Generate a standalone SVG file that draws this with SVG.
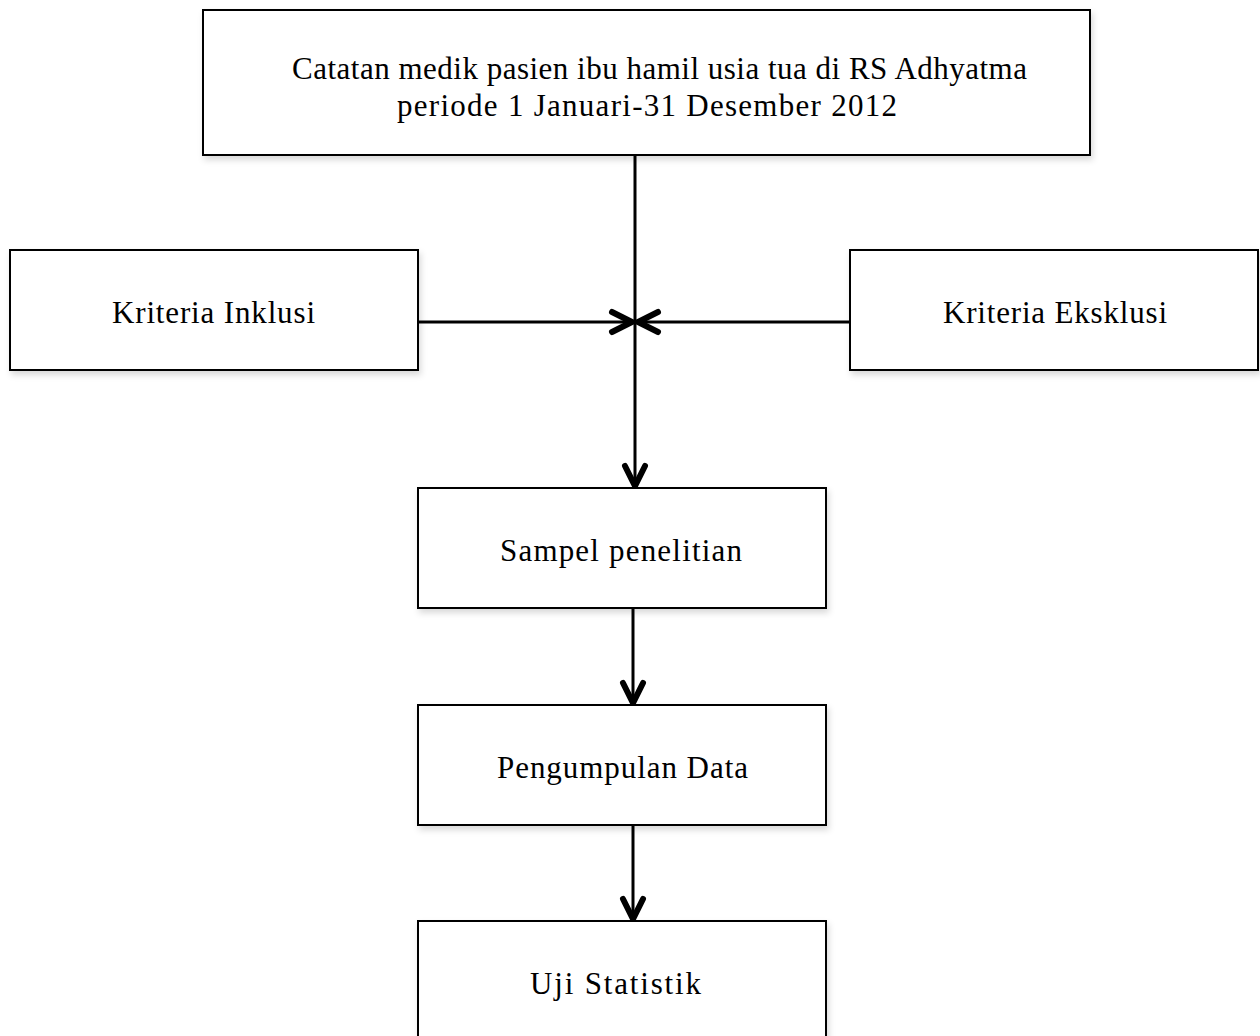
<svg xmlns="http://www.w3.org/2000/svg" width="1260" height="1036" viewBox="0 0 1260 1036">
<style>
.box{fill:#fff;stroke:#000;stroke-width:2}
.t{font-family:"Liberation Serif","DejaVu Serif",serif;font-size:31px;fill:#000}
.ln{stroke:#000;stroke-width:3;fill:none}
.ah{stroke:#000;stroke-width:6;fill:none;stroke-linecap:round;stroke-linejoin:miter}
</style>
<defs>
<filter id="sh" x="-5%" y="-5%" width="110%" height="115%">
<feDropShadow dx="2" dy="4" stdDeviation="3" flood-color="#000" flood-opacity="0.15"/>
</filter>
</defs>
<rect width="1260" height="1036" fill="#fff"/>
<g id="connectors">
<line class="ln" x1="635" y1="155" x2="635" y2="486"/>
<line class="ln" x1="418" y1="322" x2="633" y2="322"/>
<line class="ln" x1="850" y1="322" x2="637" y2="322"/>
<polyline class="ah" points="612,312 632,322 612,332"/>
<polyline class="ah" points="658,312 638,322 658,332"/>
<polyline class="ah" points="625,466 635,486 645,466"/>
<line class="ln" x1="633" y1="608" x2="633" y2="703"/>
<polyline class="ah" points="623,683 633,703 643,683"/>
<line class="ln" x1="633" y1="825" x2="633" y2="919"/>
<polyline class="ah" points="623,899 633,919 643,899"/>
</g>
<g id="n1"><rect class="box" filter="url(#sh)" x="203" y="10" width="887" height="145"/>
<text class="t" x="292" y="79" textLength="735" lengthAdjust="spacing">Catatan medik pasien ibu hamil usia tua di RS Adhyatma</text>
<text class="t" x="397" y="116" textLength="500" lengthAdjust="spacing">periode 1 Januari-31 Desember 2012</text></g>
<g id="n2"><rect class="box" filter="url(#sh)" x="10" y="250" width="408" height="120"/>
<text class="t" x="112" y="323" textLength="203" lengthAdjust="spacing">Kriteria Inklusi</text></g>
<g id="n3"><rect class="box" filter="url(#sh)" x="850" y="250" width="408" height="120"/>
<text class="t" x="943" y="323" textLength="224" lengthAdjust="spacing">Kriteria Eksklusi</text></g>
<g id="n4"><rect class="box" filter="url(#sh)" x="418" y="488" width="408" height="120"/>
<text class="t" x="500" y="561" textLength="242" lengthAdjust="spacing">Sampel penelitian</text></g>
<g id="n5"><rect class="box" filter="url(#sh)" x="418" y="705" width="408" height="120"/>
<text class="t" x="497" y="778" textLength="251" lengthAdjust="spacing">Pengumpulan Data</text></g>
<g id="n6"><rect class="box" filter="url(#sh)" x="418" y="921" width="408" height="125"/>
<text class="t" x="530" y="994" textLength="171" lengthAdjust="spacing">Uji Statistik</text></g>
</svg>
